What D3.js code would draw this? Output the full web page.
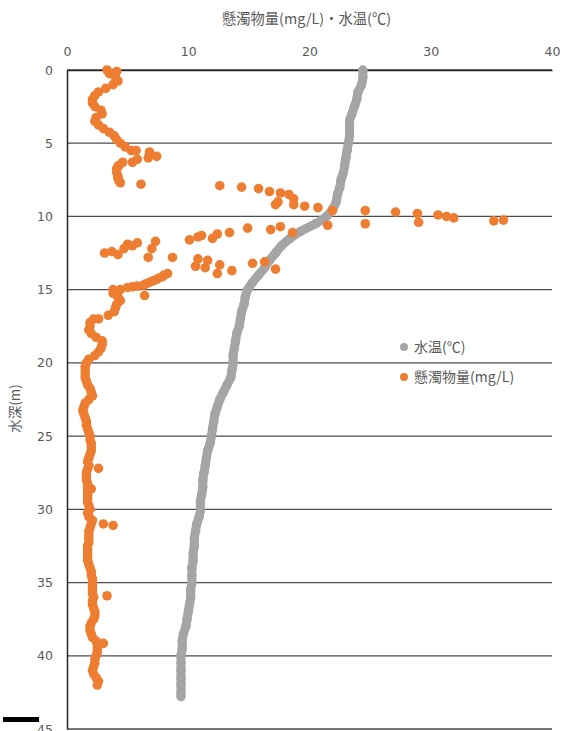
<!DOCTYPE html>
<html>
<head>
<meta charset="utf-8">
<script src="https://cdn.jsdelivr.net/npm/d3@7"></script>
<style>
  html, body { margin: 0; padding: 0; background: #fff; }
  svg { display: block; }
</style>
</head>
<body>
<div id="chart"></div>
<script>
// Axis ticks
const xTicks = [0, 10, 20, 30, 40];
const yTicks = [0, 5, 10, 15, 20, 25, 30, 35, 40, 45];

// Water temperature profile (depth m, temperature ℃)
const tempDepth = [0, 0.5, 1, 1.5, 2, 2.5, 3, 3.5, 4, 4.5, 5, 5.5, 6, 6.5, 7, 7.5, 8, 8.5, 9, 9.5,
  10, 10.5, 11, 11.5, 12, 12.5, 13, 13.5, 14, 14.5, 15, 15.5, 16, 16.5, 17, 17.5, 18, 18.5, 19, 19.5,
  20, 20.5, 21, 21.5, 22, 22.5, 23, 23.5, 24, 24.5, 25, 25.5, 26, 26.5, 27, 27.5, 28, 28.5, 29, 29.5,
  30, 30.5, 31, 31.5, 32, 32.5, 33, 33.5, 34, 34.5, 35, 35.5, 36, 36.5, 37, 37.5, 38, 38.5, 39, 39.5,
  40, 40.5, 41, 41.5, 42, 42.5, 42.8];
const tempValue = [24.4, 24.4, 24.3, 24.0, 23.9, 23.7, 23.5, 23.3, 23.3, 23.3, 23.2, 23.1, 23.0, 22.9, 22.8, 22.6, 22.5, 22.3, 22.2, 21.9,
  21.4, 20.5, 19.3, 18.4, 17.7, 17.2, 16.7, 16.3, 15.8, 15.3, 14.9, 14.7, 14.6, 14.4, 14.3, 14.2, 14.0, 13.9, 13.8, 13.7,
  13.7, 13.6, 13.5, 13.2, 12.9, 12.6, 12.4, 12.2, 12.1, 12.0, 11.9, 11.8, 11.6, 11.5, 11.4, 11.3, 11.2, 11.2, 11.1, 11.0,
  11.0, 10.9, 10.7, 10.6, 10.5, 10.5, 10.4, 10.4, 10.3, 10.3, 10.3, 10.2, 10.2, 10.1, 10.0, 9.9, 9.8, 9.6, 9.5, 9.5,
  9.4, 9.4, 9.4, 9.4, 9.4, 9.4, 9.4];

// Suspended solids readings (depth m, mg/L)
const ssDepth = [
  // surface layer
  0, 0.1, 0.25, 0.5, 0.75, 1.0, 1.25, 1.5, 1.75, 2.0, 2.25, 2.5, 2.75, 3.0, 3.25, 3.5, 3.75, 4.0, 4.25, 4.5, 4.75, 5.0, 5.25, 5.5, 5.5,
  5.6, 5.9, 6.0, 6.1, 6.3, 6.3, 6.5, 6.6, 6.75, 7.0, 7.25, 7.4, 7.6, 7.7, 7.8,
  // turbid layer, upper band
  7.9, 8.0, 8.1, 8.3, 8.4, 8.5, 8.8, 9.0, 9.2, 9.2, 9.3, 9.4, 9.6, 10.6, 9.6, 10.5, 9.7, 9.8, 10.4, 9.9, 10.0, 10.1, 10.3, 10.25,
  // turbid layer, lower band
  10.8, 10.9, 10.7, 11.1, 11.1, 11.2, 11.5, 11.3, 11.4, 11.6,
  11.7, 12.2, 12.8, 12.8, 11.8, 11.9, 12.2, 12.6, 12.4, 12.5, 12.0,
  12.9, 13.0, 13.4, 13.5, 13.3, 13.9, 13.7, 13.2, 13.1, 13.6,
  13.9, 14.0, 14.1, 14.2, 14.3, 14.4, 14.5, 14.6, 14.7, 14.75, 14.8, 14.85, 15.4,
  // deep water
  15.0, 15.0, 15.25, 15.5, 15.75, 16.0, 16.25, 16.5, 16.75, 17.0, 17.0, 17.25, 17.5, 17.75, 18.0, 18.25, 18.5, 18.75, 19.0, 19.25,
  19.5, 19.75, 20.0, 20.25, 20.5, 20.75, 21.0, 21.25, 21.5, 21.75, 22.0, 22.25, 22.5, 22.75, 23.0, 23.25, 23.5, 23.75, 24.0, 24.25,
  24.5, 24.75, 25.0, 25.25, 25.5, 25.75, 26.0, 26.25, 26.5, 26.75, 27.0, 27.2, 27.25, 27.5, 27.75, 28.0, 28.25, 28.5, 28.6, 28.75,
  29.0, 29.25, 29.5, 29.75, 30.0, 30.25, 30.5, 30.75, 31.0, 31.0, 31.1, 31.25, 31.5, 31.75, 32.0, 32.25, 32.5, 32.75, 33.0, 33.25,
  33.5, 33.75, 34.0, 34.25, 34.5, 34.75, 35.0, 35.25, 35.5, 35.75, 35.9, 36.0, 36.25, 36.5, 36.75, 37.0, 37.25, 37.5, 37.75, 38.0,
  38.25, 38.5, 38.75, 39.0, 39.15, 39.25, 39.5, 39.75, 40.0, 40.25, 40.5, 40.75, 41.0, 41.25, 41.5, 41.75, 42.0
];
const ssValue = [
  3.3, 4.1, 3.5, 4.0, 4.2, 3.8, 3.2, 2.6, 2.3, 2.1, 2.1, 2.3, 2.8, 2.9, 2.4, 2.3, 2.6, 3.0, 3.5, 3.9, 4.1, 4.4, 4.8, 5.3, 5.7,
  6.8, 7.4, 6.7, 5.8, 5.4, 4.6, 4.3, 4.2, 4.1, 4.1, 4.2, 4.2, 4.3, 4.4, 6.1,
  12.6, 14.4, 15.8, 16.7, 17.6, 18.3, 18.7, 17.4, 17.2, 18.7, 19.6, 20.7, 21.9, 21.5, 24.6, 24.6, 27.1, 28.9, 29.0, 30.6, 31.3, 31.9, 35.2, 36.0,
  14.9, 16.8, 17.6, 18.6, 13.4, 12.4, 12.0, 11.1, 10.8, 10.1,
  7.3, 7.0, 6.7, 8.7, 5.8, 5.0, 4.7, 4.2, 3.7, 3.1, 5.4,
  10.8, 11.6, 10.6, 11.4, 12.6, 12.4, 13.6, 15.3, 16.3, 17.2,
  8.3, 8.0, 7.9, 7.6, 7.4, 7.1, 6.8, 6.5, 6.3, 5.8, 5.4, 5.0, 6.4,
  4.4, 3.8, 3.8, 4.2, 4.4, 4.1, 4.0, 3.9, 3.4, 2.6, 2.2, 1.9, 1.9, 1.8, 2.0, 2.4, 2.9, 2.9, 2.8, 2.6,
  2.3, 1.8, 1.6, 1.5, 1.5, 1.5, 1.5, 1.6, 1.7, 1.9, 2.0, 2.1, 1.8, 1.5, 1.4, 1.3, 1.4, 1.5, 1.6, 1.6,
  1.7, 1.8, 1.9, 1.9, 2.0, 2.0, 2.0, 1.9, 1.8, 1.7, 1.8, 2.6, 1.7, 1.6, 1.6, 1.6, 1.7, 1.7, 2.0, 1.7,
  1.7, 1.7, 1.7, 1.8, 1.9, 1.7, 1.8, 2.1, 2.0, 3.0, 3.8, 1.9, 1.8, 1.8, 1.8, 1.8, 1.7, 1.7, 1.7, 1.7,
  1.7, 1.8, 1.9, 2.0, 2.0, 2.1, 2.1, 2.1, 2.1, 2.1, 3.3, 2.2, 2.1, 2.1, 2.2, 2.3, 2.3, 2.2, 2.0, 1.9,
  1.9, 2.0, 2.1, 2.4, 3.0, 2.5, 2.5, 2.5, 2.4, 2.3, 2.3, 2.2, 2.1, 2.2, 2.4, 2.6, 2.5
];

const seriesNames = ["水温(℃)", "懸濁物量(mg/L)"];
const seriesColors = ["#A5A5A5", "#ED7D31"];

const W = 567, H = 731;
const m = { left: 67, right: 15, top: 70, bottom: 2 };
const fontLatin = "'DejaVu Sans', 'Noto Sans CJK JP', sans-serif";
const fontCJK = "'Noto Sans CJK JP', 'DejaVu Sans', sans-serif";

const svg = d3.select("#chart").append("svg")
  .attr("width", W).attr("height", H);

const x = d3.scaleLinear().domain([0, 40]).range([m.left, W - m.right]);
const y = d3.scaleLinear().domain([0, 45]).range([m.top, H - m.bottom]);

// horizontal gridlines
svg.append("g")
  .selectAll("line")
  .data(yTicks)
  .join("line")
  .attr("x1", x(0)).attr("x2", x(40))
  .attr("y1", d => y(d)).attr("y2", d => y(d))
  .attr("stroke", "#4d4d4d").attr("stroke-width", 1.3);

// top axis
const xAxis = svg.append("g")
  .attr("transform", `translate(0,${y(0)})`)
  .call(d3.axisTop(x).tickValues(xTicks).tickSize(0).tickPadding(14));
xAxis.select(".domain").attr("stroke", "#262626").attr("stroke-width", 1.5);
xAxis.selectAll("text").attr("fill", "#595959").style("font-size", "12.5px").style("font-family", fontLatin);

// left axis
const yAxis = svg.append("g")
  .attr("transform", `translate(${x(0)},0)`)
  .call(d3.axisLeft(y).tickValues(yTicks).tickSize(0).tickPadding(14));
yAxis.select(".domain").attr("stroke", "#262626").attr("stroke-width", 1.5);
yAxis.selectAll("text").attr("fill", "#595959").style("font-size", "12.5px").style("font-family", fontLatin);

// titles
svg.append("text")
  .attr("x", (x(0) + x(40)) / 2 - 3).attr("y", 24)
  .attr("text-anchor", "middle")
  .attr("fill", "#595959")
  .style("font-size", "14.3px").style("font-family", fontCJK)
  .text("懸濁物量(mg/L)・水温(℃)");

svg.append("text")
  .attr("transform", `translate(20,${(y(0) + y(45)) / 2 + 9}) rotate(-90)`)
  .attr("text-anchor", "middle")
  .attr("fill", "#595959")
  .style("font-size", "13.5px").style("font-family", fontCJK)
  .text("水深(m)");

// temperature profile
const tempPts = tempDepth.map((d, i) => ({ d, v: tempValue[i] }));
svg.append("path")
  .datum(tempPts)
  .attr("fill", "none")
  .attr("stroke", seriesColors[0])
  .attr("stroke-width", 9)
  .attr("stroke-linejoin", "round")
  .attr("d", d3.line().x(p => x(p.v)).y(p => y(p.d)).curve(d3.curveMonotoneY));
svg.append("g")
  .selectAll("circle")
  .data(tempPts)
  .join("circle")
  .attr("cx", p => x(p.v)).attr("cy", p => y(p.d))
  .attr("r", 4.7)
  .attr("fill", seriesColors[0]);

// suspended solids
const ssPts = ssDepth.map((d, i) => ({ d, v: ssValue[i] }));
svg.append("g")
  .selectAll("circle")
  .data(ssPts)
  .join("circle")
  .attr("cx", p => x(p.v)).attr("cy", p => y(p.d))
  .attr("r", 4.8)
  .attr("fill", seriesColors[1]);

// legend
const legend = svg.append("g").attr("transform", "translate(404,347)");
seriesNames.forEach((name, i) => {
  const g = legend.append("g").attr("transform", `translate(0,${i * 30})`);
  g.append("circle").attr("r", 4).attr("fill", seriesColors[i]);
  g.append("text")
    .attr("x", 10).attr("y", 0).attr("dy", "0.35em")
    .attr("fill", "#595959")
    .style("font-size", "14px").style("font-family", fontCJK)
    .text(name);
});

// small black bar at lower left
svg.append("rect")
  .attr("x", 3).attr("y", 717).attr("width", 36).attr("height", 5)
  .attr("fill", "#000");
</script>
</body>
</html>
